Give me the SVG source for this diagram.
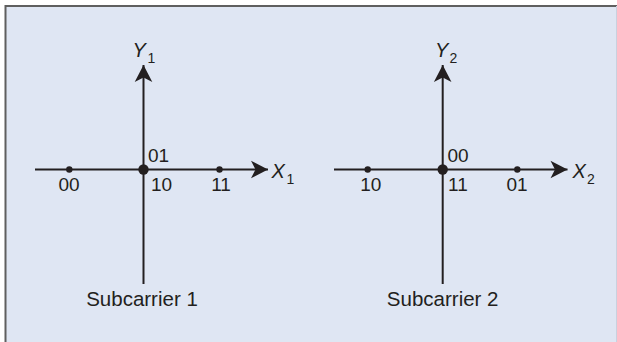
<svg xmlns="http://www.w3.org/2000/svg" width="617" height="342" viewBox="0 0 617 342">
<defs>
<style>
.ax{stroke:#231f20;stroke-width:2;fill:none}
.dot{fill:#231f20}
.fr{stroke:#5f5f5f;stroke-width:2;fill:none}
text{font-family:"Liberation Sans",Arial,sans-serif;fill:#231f20}
.d{font-size:19px}
.v{font-size:20px;font-style:italic}
.s{font-size:14px}
.t{font-size:20.5px;text-anchor:middle}
.m{text-anchor:middle}
</style>
<marker id="ah" viewBox="-18 -10 20 20" markerWidth="20" markerHeight="20" refX="0" refY="0" orient="auto" markerUnits="userSpaceOnUse">
<path d="M0,0 L-17,-8.8 L-12.5,0 L-17,8.8 Z" fill="#231f20"/>
</marker>
</defs>
<rect x="5.5" y="6" width="611.5" height="336" fill="#dfe6f3"/>
<path class="fr" d="M5.5,342 V6 H617"/>
<path d="M616.5,6 V342" stroke="#c9d1de" stroke-width="1"/>
<g id="connectors">
<path class="ax" d="M35,169.5 H268" marker-end="url(#ah)"/>
<path class="ax" d="M143.5,284 V65" marker-end="url(#ah)"/>
<path class="ax" d="M334,169.5 H567.5" marker-end="url(#ah)"/>
<path class="ax" d="M442.7,284 V65" marker-end="url(#ah)"/>
</g>
<g id="subcarrier1">
<circle class="dot" cx="69.3" cy="169.5" r="3.2"/>
<circle class="dot" cx="143.5" cy="169.5" r="5.2"/>
<circle class="dot" cx="219.5" cy="169.5" r="3.2"/>
<text class="d" x="148" y="162">01</text>
<text class="d" x="151" y="190.5">10</text>
<text class="d m" x="69" y="190.5">00</text>
<text class="d m" x="221" y="190.5">11</text>
<text class="v" x="132.5" y="57">Y</text><text class="s" x="147.5" y="62.5">1</text>
<text class="v" x="271.5" y="178">X</text><text class="s" x="286.5" y="183.5">1</text>
<text class="t" x="142" y="306">Subcarrier 1</text>
</g>
<g id="subcarrier2">
<circle class="dot" cx="367.7" cy="169.5" r="3.2"/>
<circle class="dot" cx="442.7" cy="169.5" r="5.2"/>
<circle class="dot" cx="517.3" cy="169.5" r="3.2"/>
<text class="d" x="447.5" y="162">00</text>
<text class="d" x="448" y="190.5">11</text>
<text class="d m" x="370.8" y="190.5">10</text>
<text class="d m" x="517" y="190.5">01</text>
<text class="v" x="435" y="57">Y</text><text class="s" x="449.5" y="62.5">2</text>
<text class="v" x="572.5" y="178">X</text><text class="s" x="587" y="184">2</text>
<text class="t" x="442.7" y="306">Subcarrier 2</text>
</g>
</svg>
